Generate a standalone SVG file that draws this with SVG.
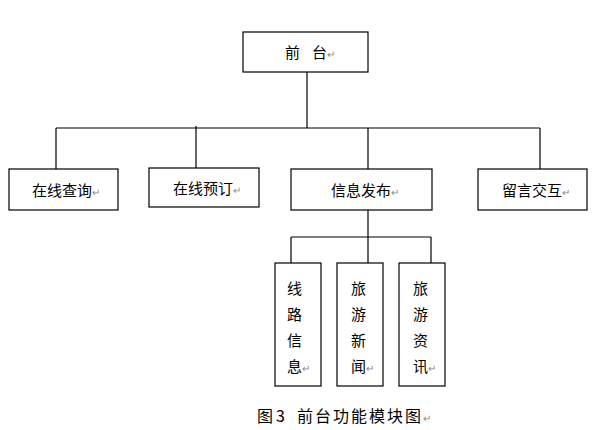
<svg xmlns="http://www.w3.org/2000/svg" width="598" height="430" viewBox="0 0 598 430">
<style>
.box{fill:#fff;stroke:#000;stroke-width:1.2}
.t{font-family:"Noto Sans CJK SC","Noto Sans CJK JP",sans-serif;font-size:15px;fill:#000}
.cap{font-size:16px}
.m{fill:#888;font-size:10px;letter-spacing:0}
.c{fill:none;stroke:#000;stroke-width:1.2}
</style>
<rect width="598" height="430" fill="#fff"/>
<g id="connectors">
<path class="c" d="M307 72V128M56 128H540M56 128V169M196 126V168M368 128V169M540 128V169M368 210V237M291 237H431M291 237V263M368 237V263M431 237V263"/>
</g>
<g id="n-qiantai"><rect class="box" x="243" y="32" width="125" height="40"/><text class="t" x="285" y="58">前</text><text class="t" x="312" y="58">台<tspan class="m">↵</tspan></text></g>
<g id="n-zaixianchaxun"><rect class="box" x="9" y="169" width="109" height="41"/><text class="t" x="32" y="196">在线查询<tspan class="m">↵</tspan></text></g>
<g id="n-zaixianyuding"><rect class="box" x="149" y="168" width="110" height="39"/><text class="t" x="173" y="194">在线预订<tspan class="m">↵</tspan></text></g>
<g id="n-xinxifabu"><rect class="box" x="291" y="169" width="141" height="41"/><text class="t" x="331" y="196">信息发布<tspan class="m">↵</tspan></text></g>
<g id="n-liuyanjiaohu"><rect class="box" x="478" y="169" width="109" height="41"/><text class="t" x="502" y="196">留言交互<tspan class="m">↵</tspan></text></g>
<g id="n-xianluxinxi"><rect class="box" x="275" y="263" width="46" height="123"/>
<text class="t" x="287" y="294">线</text><text class="t" x="287" y="320">路</text><text class="t" x="287" y="346">信</text><text class="t" x="287" y="372">息<tspan class="m">↵</tspan></text></g>
<g id="n-lvyouxinwen"><rect class="box" x="337" y="263" width="46" height="123"/>
<text class="t" x="351" y="294">旅</text><text class="t" x="351" y="320">游</text><text class="t" x="351" y="346">新</text><text class="t" x="351" y="372">闻<tspan class="m">↵</tspan></text></g>
<g id="n-lvyouzixun"><rect class="box" x="399" y="263" width="46" height="123"/>
<text class="t" x="413" y="294">旅</text><text class="t" x="413" y="320">游</text><text class="t" x="413" y="346">资</text><text class="t" x="413" y="372">讯<tspan class="m">↵</tspan></text></g>
<g id="caption">
<text class="t cap" x="257" y="422">图</text>
<text class="t cap" x="276" y="422">3</text>
<text class="t cap" x="297" y="422" letter-spacing="2">前台功能模块图<tspan class="m">↵</tspan></text>
</g>
</svg>
